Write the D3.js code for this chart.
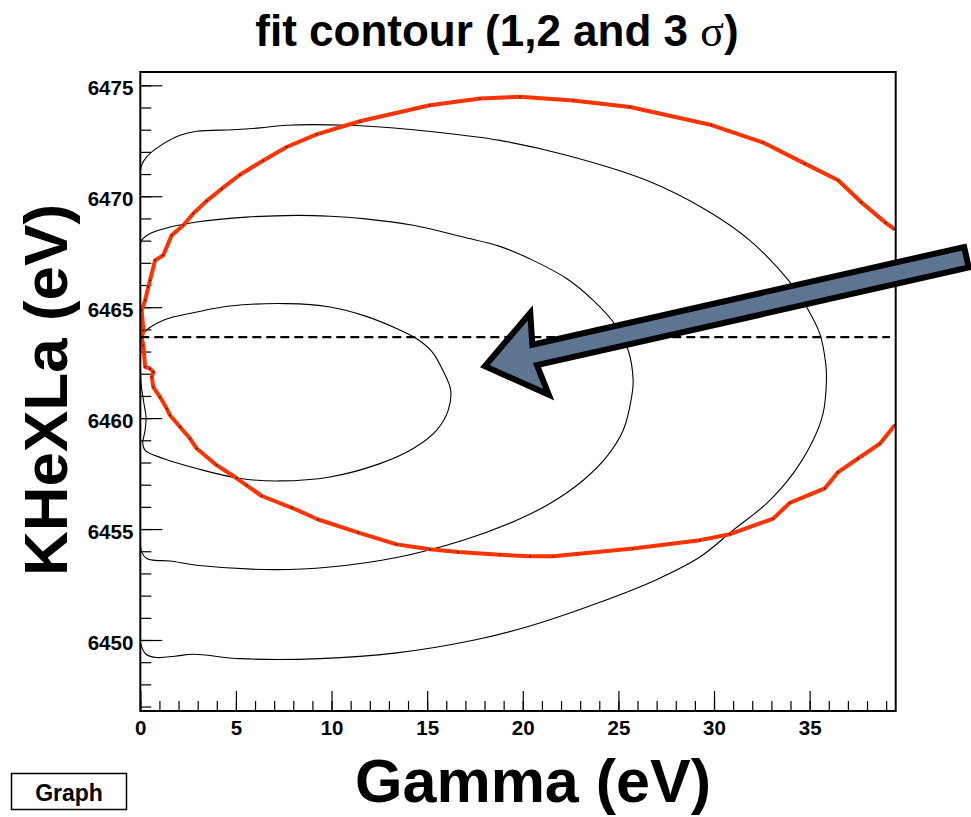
<!DOCTYPE html>
<html>
<head>
<meta charset="utf-8">
<script src="https://cdn.jsdelivr.net/npm/d3@7"></script>
<style>
  body { margin: 0; background: #fff; }
  svg { display: block; }
</style>
</head>
<body>
<svg id="chart" width="971" height="817"></svg>
<script>
// Axis ranges and ticks
const gammaRange = [0, 39.5];
const energyRange = [6446.8, 6475.6];
const gammaTicks = [0, 5, 10, 15, 20, 25, 30, 35];
const energyTicks = [6450, 6455, 6460, 6465, 6470, 6475];
const gammaMinor = d3.range(0, 40, 1);
const energyMinor = d3.range(6447, 6476, 1);

// Best-fit energy (dashed line)
const bestEnergy = 6463.65;
const bestLineGamma = [0, 39.2];

// 1 sigma contour [Gamma, KHeXLa]
const sigma1 = [
  [0.04, 6463.28], [0.16, 6463.81], [1.20, 6464.41], [2.95, 6464.78], [4.69, 6465.05],
  [7.65, 6465.16], [9.92, 6465.01], [11.66, 6464.63], [13.40, 6464.04], [14.45, 6463.58],
  [15.25, 6463.00], [15.85, 6462.10], [16.23, 6461.26], [16.10, 6460.35], [15.49, 6459.45],
  [14.27, 6458.63], [12.53, 6457.95], [9.92, 6457.35], [7.30, 6457.17], [5.22, 6457.28],
  [2.95, 6457.73], [1.20, 6458.18], [0.25, 6458.55], [0.13, 6458.85], [0.25, 6459.45],
  [0.30, 6460.05], [0.19, 6460.66], [0.04, 6461.57], [0.01, 6462.61]
];

// 2 sigma contour
const sigma2 = [
  [0.00, 6467.79], [0.07, 6468.01], [0.51, 6468.32], [1.55, 6468.61], [2.95, 6468.84],
  [5.56, 6469.06], [8.18, 6469.14], [9.92, 6469.10], [11.66, 6468.99], [14.27, 6468.69],
  [16.88, 6468.16], [18.80, 6467.74], [20.54, 6467.11], [22.29, 6466.29], [23.68, 6465.31],
  [24.73, 6464.33], [25.51, 6463.06], [25.77, 6461.71], [25.69, 6460.95], [25.25, 6459.45],
  [24.38, 6458.25], [23.16, 6457.20], [21.42, 6456.15], [19.68, 6455.40], [16.88, 6454.50],
  [13.40, 6453.72], [9.92, 6453.29], [6.95, 6453.17], [2.95, 6453.37], [1.55, 6453.56],
  [0.77, 6453.59], [0.33, 6453.67], [0.07, 6453.97], [0.00, 6454.50], [0.00, 6461.00]
];

// 3 sigma contour
const sigma3 = [
  [0.00, 6471.08], [0.07, 6471.39], [0.33, 6471.77], [1.03, 6472.27], [2.08, 6472.75],
  [2.95, 6472.93], [4.86, 6473.00], [6.26, 6473.08], [7.65, 6473.20], [10.79, 6473.20],
  [14.27, 6473.00], [16.88, 6472.75], [18.80, 6472.52], [22.29, 6471.85], [26.47, 6470.72],
  [29.61, 6469.37], [31.87, 6468.01], [33.96, 6466.14], [34.84, 6465.01], [35.53, 6463.81],
  [35.84, 6462.46], [35.88, 6461.71], [35.70, 6460.20], [35.18, 6459.00], [34.13, 6457.50],
  [32.74, 6456.15], [31.00, 6454.95], [29.26, 6453.74], [26.99, 6452.72], [24.03, 6451.70],
  [20.37, 6450.63], [17.41, 6449.99], [13.40, 6449.42], [9.39, 6449.16], [5.21, 6449.16],
  [2.77, 6449.36], [1.81, 6449.27], [0.86, 6449.21], [0.30, 6449.36], [0.07, 6449.69],
  [0.00, 6449.99], [0.00, 6460.50]
];

// Red contour (open: leaves the frame on the right)
const redContour = [
  [39.45, 6459.68], [38.67, 6458.85], [37.53, 6458.18], [36.49, 6457.57], [35.79, 6456.83],
  [33.96, 6456.18], [33.09, 6455.47], [30.83, 6454.77], [29.26, 6454.50], [25.77, 6454.12],
  [21.59, 6453.77], [20.37, 6453.77], [18.80, 6453.84], [16.62, 6453.97], [15.14, 6454.09],
  [13.40, 6454.31], [11.40, 6454.84], [9.30, 6455.43], [7.93, 6455.96], [6.35, 6456.49],
  [5.56, 6456.97], [5.04, 6457.29], [3.99, 6457.88], [2.95, 6458.63], [2.60, 6459.08],
  [2.08, 6459.60], [1.55, 6460.13], [1.38, 6460.43], [1.03, 6460.95], [0.68, 6461.40],
  [0.60, 6461.85], [0.68, 6462.08], [0.51, 6462.23], [0.25, 6462.31], [0.16, 6463.28],
  [0.07, 6463.60], [0.16, 6463.96], [0.07, 6464.86], [0.25, 6465.31], [0.42, 6465.91],
  [0.51, 6466.21], [0.77, 6467.11], [1.20, 6467.34], [1.64, 6468.24], [2.25, 6468.69],
  [2.77, 6469.22], [3.47, 6469.79], [4.26, 6470.34], [5.21, 6470.97], [6.43, 6471.61],
  [7.65, 6472.22], [9.22, 6472.79], [11.48, 6473.38], [15.14, 6474.10], [17.76, 6474.41],
  [19.85, 6474.48], [22.63, 6474.32], [25.60, 6474.02], [29.87, 6473.21], [32.57, 6472.42],
  [34.75, 6471.47], [36.49, 6470.72], [37.70, 6469.73], [38.98, 6468.80], [39.45, 6468.51]
];

// Annotation arrow: tip and tail in data units
const arrowTip = [18.02, 6462.34];
const arrowTail = [43.2, 6467.25];

const svg = d3.select("#chart");
const W = 971, H = 817;
const plot = { left: 140.3, right: 895.7, top: 72, bottom: 711 };

const x = d3.scaleLinear().domain(gammaRange).range([plot.left, plot.right]);
const y = d3.scaleLinear().domain(energyRange).range([plot.bottom, plot.top]);

svg.append("rect").attr("width", W).attr("height", H).attr("fill", "#fff");

svg.append("defs").append("clipPath").attr("id", "plotClip")
  .append("rect")
  .attr("x", plot.left).attr("y", plot.top)
  .attr("width", plot.right - plot.left).attr("height", plot.bottom - plot.top);

// Axes: ticks pointing inward, ROOT style
const fontTick = "'Liberation Sans', Arial, Helvetica, sans-serif";

const xMinorAxis = d3.axisBottom(x).tickValues(gammaMinor).tickSize(-10).tickFormat("");
const xMajorAxis = d3.axisBottom(x).tickValues(gammaTicks).tickSize(-20).tickPadding(9).tickFormat(d3.format("d"));
const yMinorAxis = d3.axisLeft(y).tickValues(energyMinor).tickSize(-11).tickFormat("");
const yMajorAxis = d3.axisLeft(y).tickValues(energyTicks).tickSize(-22).tickPadding(7).tickFormat(d3.format("d"));

function styleAxis(g) {
  g.select(".domain").remove();
  g.selectAll(".tick line").attr("stroke", "#000").attr("stroke-width", 1.2);
  g.selectAll(".tick text").attr("fill", "#000")
    .style("font-family", fontTick).style("font-weight", "bold").style("font-size", "20.5px");
}

svg.append("g").attr("transform", `translate(0,${plot.bottom})`).call(xMinorAxis).call(styleAxis);
svg.append("g").attr("transform", `translate(0,${plot.bottom})`).call(xMajorAxis).call(styleAxis);
svg.append("g").attr("transform", `translate(${plot.left},0)`).call(yMinorAxis).call(styleAxis);
svg.append("g").attr("transform", `translate(${plot.left},0)`).call(yMajorAxis).call(styleAxis)
  .selectAll(".tick text").attr("dy", "0.45em");

// Contours
const body = svg.append("g").attr("clip-path", "url(#plotClip)");

const closedLine = d3.line().x(d => x(d[0])).y(d => y(d[1])).curve(d3.curveCatmullRomClosed.alpha(0.5));
const openLine = d3.line().x(d => x(d[0])).y(d => y(d[1])).curve(d3.curveLinear);

[sigma3, sigma2, sigma1].forEach(c => {
  body.append("path").attr("d", closedLine(c))
    .attr("fill", "none").attr("stroke", "#000").attr("stroke-width", 1.1);
});

body.append("path").attr("d", openLine(redContour))
  .attr("fill", "none").attr("stroke", "#ff3300").attr("stroke-width", 4)
  .attr("stroke-linejoin", "round").attr("stroke-linecap", "butt");

body.selectAll("circle.pt").data(redContour).join("circle")
  .attr("class", "pt")
  .attr("cx", d => x(d[0])).attr("cy", d => y(d[1])).attr("r", 0.9).attr("fill", "#222");

// Best-fit line
svg.append("line")
  .attr("x1", x(bestLineGamma[0])).attr("x2", x(bestLineGamma[1]))
  .attr("y1", y(bestEnergy)).attr("y2", y(bestEnergy))
  .attr("stroke", "#000").attr("stroke-width", 2.4).attr("stroke-dasharray", "9,5");

// Frame
svg.append("rect")
  .attr("x", plot.left).attr("y", plot.top)
  .attr("width", plot.right - plot.left).attr("height", plot.bottom - plot.top)
  .attr("fill", "none").attr("stroke", "#000").attr("stroke-width", 2);

// Block arrow
(function drawArrow() {
  const tx = x(arrowTip[0]), ty = y(arrowTip[1]);
  const sx = x(arrowTail[0]), sy = y(arrowTail[1]);
  const len = Math.hypot(sx - tx, sy - ty);
  const ux = (sx - tx) / len, uy = (sy - ty) / len;   // along shaft (towards tail)
  const nx = -uy, ny = ux;                              // normal
  const headLen = 54, headHalf = 42, shaftHalf = 10.5;
  const P = (a, b) => [tx + ux * a + nx * b, ty + uy * a + ny * b];
  const pts = [
    P(0, 0),
    P(headLen + 2, -headHalf),
    P(headLen - 3, -shaftHalf),
    P(len, -shaftHalf),
    P(len, shaftHalf),
    P(headLen - 3, shaftHalf),
    P(headLen + 2, headHalf)
  ];
  svg.append("polygon")
    .attr("points", pts.map(p => p.join(",")).join(" "))
    .attr("fill", "#5e7592").attr("stroke", "#000").attr("stroke-width", 6)
    .attr("stroke-linejoin", "miter").attr("stroke-miterlimit", 10);
})();

// Title and axis titles
svg.append("text")
  .attr("x", 497).attr("y", 46).attr("text-anchor", "middle")
  .style("font-family", fontTick).style("font-weight", "bold").style("font-size", "44px")
  .call(t => {
    t.append("tspan").text("fit contour (1,2 and 3 ");
    t.append("tspan").style("font-family", "'Liberation Serif', 'DejaVu Serif', serif")
      .style("font-weight", "normal").text("σ");
    t.append("tspan").text(")");
  });

svg.append("text")
  .attr("x", 533).attr("y", 802).attr("text-anchor", "middle")
  .style("font-family", fontTick).style("font-weight", "bold").style("font-size", "61px")
  .text("Gamma (eV)");

svg.append("text")
  .attr("transform", "translate(67,390) rotate(-90)").attr("text-anchor", "middle")
  .style("font-family", fontTick).style("font-weight", "bold").style("font-size", "62px")
  .text("KHeXLa (eV)");

// Graph label box
svg.append("rect")
  .attr("x", 11.5).attr("y", 773.5).attr("width", 115).attr("height", 36)
  .attr("fill", "#fff").attr("stroke", "#000").attr("stroke-width", 1.5);
svg.append("text")
  .attr("x", 69).attr("y", 801).attr("text-anchor", "middle")
  .style("font-family", fontTick).style("font-weight", "bold").style("font-size", "23px")
  .text("Graph");
</script>
</body>
</html>
